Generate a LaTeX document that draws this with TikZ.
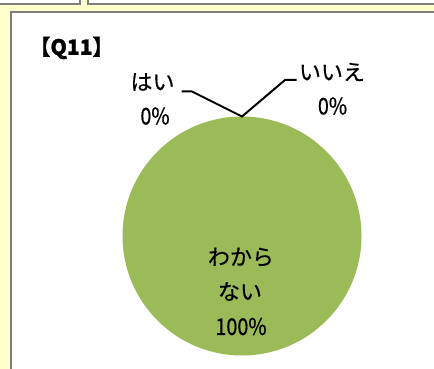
\documentclass[tikz,border=0pt]{standalone}
\usepackage{fontspec}
\newfontfamily\jp[FakeBold=0.6]{Noto Sans CJK JP}
\newfontfamily\jpnum[FakeStretch=0.86,FakeBold=0.6]{Noto Sans CJK JP}
\newfontfamily\jptitle[FakeBold=1.2]{Noto Sans CJK JP}
\definecolor{bgyellow}{HTML}{FFFFCC}
\definecolor{frame}{HTML}{7F7F7F}
\definecolor{piegreen}{HTML}{9BBB59}
\begin{document}
\begin{tikzpicture}[x=1pt,y=-1pt,
  panel/.style={fill=white,draw=frame,line width=2pt},
  lbl/.style={font=\jp\fontsize{22}{22}\selectfont,inner sep=0pt,anchor=center},
  num/.style={font=\jpnum\fontsize{23}{23}\selectfont,inner sep=0pt,anchor=center},
  leader/.style={draw=black,line width=2pt}]
\useasboundingbox (0,0) rectangle (434,369);
\fill[bgyellow] (0,0) rectangle (434,369);
% top panels
\draw[panel] (-10,-10) rectangle (80,4.5);
\draw[panel] (88,-10) rectangle (450,4.5);
% main panel
\draw[panel] (11.3,11.8) rectangle (450,380);
% title
\node[inner sep=0pt,font=\jptitle\bfseries\fontsize{21}{21}\selectfont] (title) at (71.5,48) {【Q11】};
% pie
\fill[piegreen] (242,236) circle (119.5);
\coordinate (top) at (242,116.5);
% labels
\node[lbl] (yes) at (152.5,82) {はい};
\node[num] (yesp) at (155,116) {0\%};
\node[lbl] (no) at (332,72) {いいえ};
\node[num] (nop) at (332.5,106) {0\%};
\node[lbl] (dk1) at (241,257) {わから};
\node[lbl] (dk2) at (240,291.5) {ない};
\node[num] (dk3) at (241,326.5) {100\%};
% leader lines
\coordinate (yesA) at (181.5,91.5);
\coordinate (yesB) at (192,91.5);
\coordinate (noA) at (296.5,80);
\coordinate (noB) at (285,80);
\draw[leader] (yesA) -- (yesB) -- (top) -- (noB) -- (noA);
\end{tikzpicture}
\end{document}
